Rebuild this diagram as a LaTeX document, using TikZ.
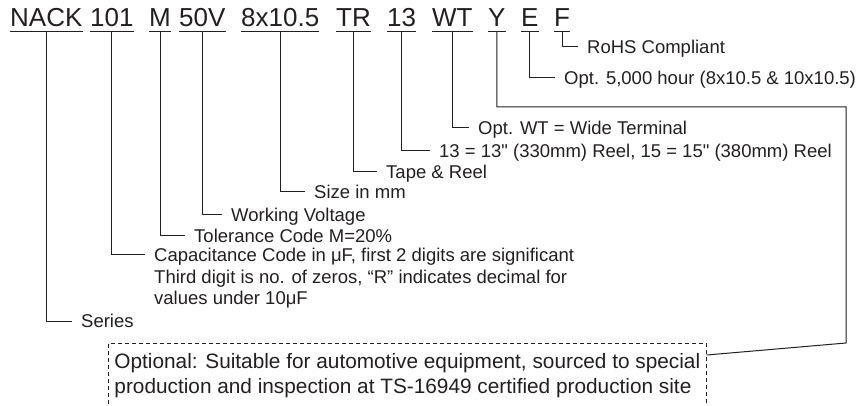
\documentclass[tikz,border=0pt]{standalone}
\usepackage{fontspec}
\setmainfont{Liberation Sans}[Ligatures=TeXOff]
\usetikzlibrary{calc}
\definecolor{ink}{HTML}{231F20}

\begin{document}
\begin{tikzpicture}[x=1pt, y=-1pt,
    every node/.style={text=ink},
    code/.style={anchor=base west, inner sep=0pt, text depth=4pt,
        font=\fontsize{26}{30}\selectfont},
    desc/.style={anchor=west, inner xsep=9pt, inner ysep=0pt,
        text height=13.5pt, text depth=0pt,
        font=\fontsize{18.5}{21.5}\selectfont},
    capdesc/.style={anchor=base west, inner xsep=9pt, inner ysep=0pt,
        align=left, font=\fontsize{18.5}{21.5}\selectfont},
    optbox/.style={anchor=north west, draw=ink, line width=0.9pt,
        dash pattern=on 4pt off 3pt, align=left, inner xsep=6pt,
        inner ysep=4pt, minimum height=64pt,
        font=\fontsize{20.8}{24.8}\selectfont},
    lead/.style={draw=ink, line width=1pt},
]
\useasboundingbox (0,0) rectangle (857,406);
\clip (0,0) rectangle (857,406);

% Part number codes
\node[code] (cSer)  at (10,27)  {NACK};
\node[code] (cCap)  at (90,27)  {101};
\node[code] (cTol)  at (149,27) {M};
\node[code] (cVolt) at (179,27) {50V};
\node[code] (cSize) at (241,27) {8x10.5};
\node[code] (cTape) at (336,27) {TR};
\node[code] (cReel) at (387,27) {13};
\node[code] (cTerm) at (432,27) {WT};
\node[code] (cAuto) at (488,27) {Y};
\node[code] (cLife) at (521,27) {E};
\node[code] (cRohs) at (554,27) {F};

% Descriptions
\node[desc] (dRohs) at (578,47)  {RoHS Compliant};
\node[desc] (dLife) at (555,78)  {Opt. 5,000 hour (8x10.5 \& 10x10.5)};
\node[desc] (dTerm) at (469,128) {Opt. WT = Wide Terminal};
\node[desc] (dReel) at (430,151) {13 = 13" (330mm) Reel, 15 = 15" (380mm) Reel};
\node[desc] (dTape) at (377,172) {Tape \& Reel};
\node[desc] (dSize) at (305,192) {Size in mm};
\node[desc] (dVolt) at (222,215) {Working Voltage};
\node[desc] (dTol)  at (185,236) {Tolerance Code M=20\%};
% base of this node is its last line
\node[capdesc] (dCap) at (145,304.7)
    {Capacitance Code in μF, first 2 digits are significant\\
     Third digit is no. of zeros, “R” indicates decimal for\\
     values under 10μF};
\node[desc] (dSer)  at (72,321)  {Series};

% Optional box
\node[optbox] (dAuto) at (108,343)
    {Optional: Suitable for automotive equipment, sourced to special\\
     production and inspection at TS-16949 certified production site};

% Underlines
\foreach \c in {cSer,cCap,cTol,cVolt,cSize,cTape,cReel,cTerm,cAuto,cLife,cRohs}
    \draw[lead] (\c.south west) -- (\c.south east);

% Leaders
\foreach \c/\d in {cSer/dSer, cTol/dTol, cVolt/dVolt, cSize/dSize,
    cTape/dTape, cReel/dReel, cTerm/dTerm, cLife/dLife, cRohs/dRohs}
    \draw[lead] (\c.south) |- (\d.west);
\draw[lead] (cCap.south) |- ([yshift=49.7pt]dCap.base west);

\coordinate (autoTurn) at (846,107);
\coordinate (autoDrop) at (846,343);
\draw[lead] (cAuto.south) |- (autoTurn) -- (autoDrop)
    -- ([yshift=-12pt]dAuto.north east);

\end{tikzpicture}
\end{document}
